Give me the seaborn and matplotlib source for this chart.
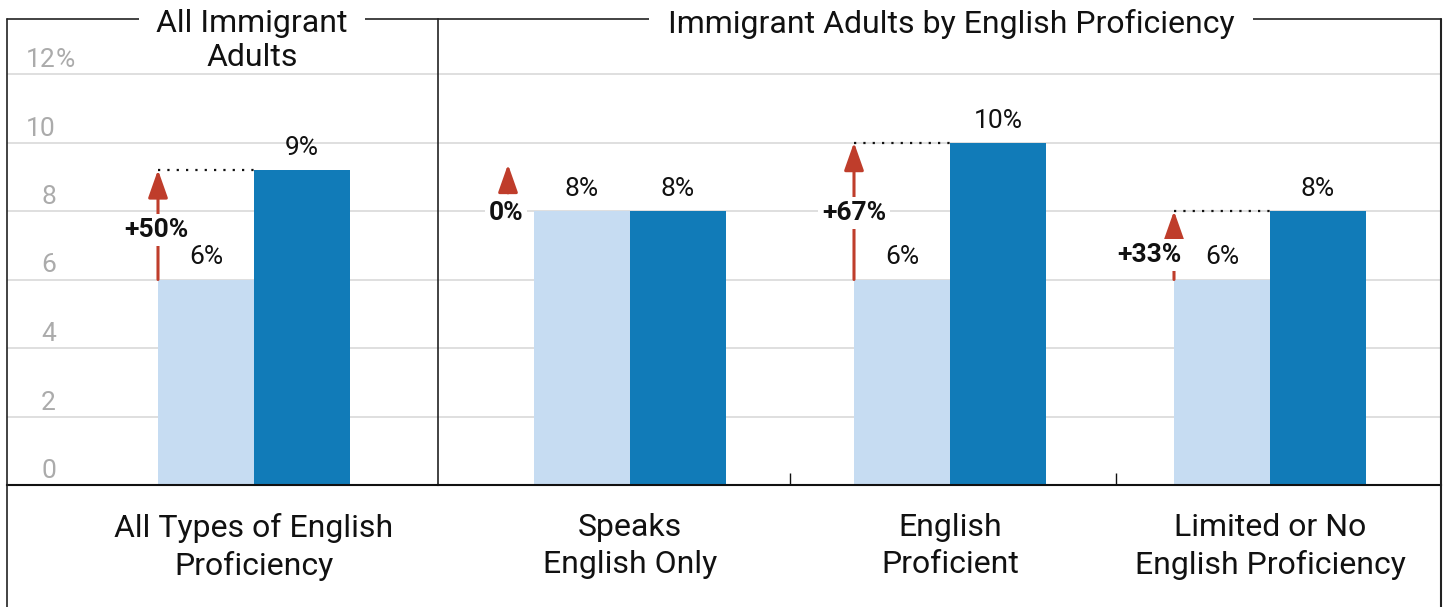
import matplotlib
matplotlib.use("Agg")
import matplotlib.pyplot as plt
import matplotlib.transforms as mtransforms
from matplotlib.lines import Line2D
import seaborn as sns
import pandas as pd
import numpy as np

# ---------------- data ----------------
categories = ["All Types of English\nProficiency", "Speaks\nEnglish Only",
              "English\nProficient", "Limited or No\nEnglish Proficiency"]
periods = ["Earlier", "Later"]
earlier = [6.0, 8.0, 6.0, 6.0]
later = [9.2, 8.0, 10.0, 8.0]
panel_titles = ["All Immigrant\nAdults", "Immigrant Adults by English Proficiency"]
y_ticks = [0, 2, 4, 6, 8, 10, 12]

# ---------------- style ----------------
LIGHT = "#c6dcf2"
DARK = "#117bb8"
RED = "#bf3d2b"
GRID = "#dcdcdc"
TICKGRAY = "#ababab"
FRAME = "#222222"
TXT = "#111111"

sns.set_theme(style="white")
plt.rcParams['font.family'] = ['Roboto', 'DejaVu Sans']

W, H = 1444, 607
fig = plt.figure(figsize=(W / 100, H / 100), dpi=100)


def fx(px):
    return px / W


def fy(py):
    return 1 - py / H


base_y, top_y, unit_px = 485, 19, 34.25
ymax = (base_y - top_y) / unit_px
cat_px = 320.0

axL = fig.add_axes([fx(6.5), fy(base_y), fx(438 - 6.5), (base_y - top_y) / H])
axR = fig.add_axes([fx(438), fy(base_y), fx(1441 - 438), (base_y - top_y) / H])

rows = []
for c, a, b in zip(categories, earlier, later):
    rows.append({"category": c, "period": periods[0], "value": a})
    rows.append({"category": c, "period": periods[1], "value": b})
df = pd.DataFrame(rows)

panels = [(axL, categories[:1]), (axR, categories[1:])]
for ax, cats in panels:
    sub = df[df["category"].isin(cats)]
    sns.barplot(data=sub, x="category", y="value", hue="period", order=cats,
                hue_order=periods, palette=[LIGHT, DARK], width=0.6,
                saturation=1, linewidth=0, errorbar=None, legend=False, ax=ax)
    ax.set_ylim(0, ymax)
    ax.set_yticks(y_ticks)
    ax.set_yticklabels([])
    ax.tick_params(axis="y", length=0)
    ax.grid(axis="y", color=GRID, lw=1.3)
    ax.grid(axis="x", visible=False)
    ax.set_axisbelow(True)
    ax.set_xlabel("")
    ax.set_ylabel("")
    ax.set_facecolor("none")
    for s in ["top", "right"]:
        ax.spines[s].set_visible(False)
    ax.spines["bottom"].set_color(TXT)
    ax.spines["bottom"].set_linewidth(1.5)
    ax.tick_params(axis="x", length=0, pad=20, labelsize=23, labelcolor=TXT)
    for lab in ax.get_xticklabels():
        lab.set_linespacing(1.35)

axL.spines["left"].set_visible(False)
axR.spines["left"].set_color(FRAME)
axR.spines["left"].set_linewidth(1.2)

axL.set_xlim(-(254 - 6.5) / cat_px, (438 - 254) / cat_px)
axR.set_xlim(-(630 - 438) / cat_px, 2 + (1441 - 1270) / cat_px)

# small separators between right-panel groups
axR.set_xticks([0.5, 1.52], minor=True)
axR.tick_params(axis="x", which="minor", direction="in", length=9, width=1.0,
                color=TXT, bottom=True)

# y tick labels drawn inside the left panel
ytrans = mtransforms.offset_copy(axL.get_yaxis_transform(), fig=fig, x=0, y=7, units="dots")
xlab = (56 - 6.5) / (438 - 6.5)
for v in y_ticks:
    axL.text(xlab, v, f"{v}", ha="right", va="baseline", fontsize=19,
             color=TICKGRAY, transform=ytrans)
axL.text(xlab, y_ticks[-1], "%", ha="left", va="baseline", fontsize=19,
         color=TICKGRAY, transform=ytrans)

# change-label layout (pixels): (dx, dy) relative to arrow / midpoint
change_offsets = [(-2, -2), (-28, -2), (0, -2), (-25, -10)]

gi = 0
for ax, cats in panels:
    c_old, c_new = ax.containers[0], ax.containers[1]
    for j in range(len(cats)):
        old = earlier[gi]
        new = later[gi]
        bo, bn = c_old[j], c_new[j]
        # value labels
        for b, v in ((bo, old), (bn, new)):
            t = mtransforms.offset_copy(ax.transData, fig=fig, x=0, y=15, units="dots")
            ax.text(b.get_x() + b.get_width() / 2, v, f"{v:.0f}%", ha="center",
                    va="baseline", fontsize=19, color=TXT, transform=t)
        r_old, r_new = round(old), round(new)
        change = round((r_new - r_old) / r_old * 100)
        dxp, dyp = change_offsets[gi]
        x_arrow = bo.get_x()
        aprops = dict(arrowstyle="-|>,head_length=0.85,head_width=0.3",
                      mutation_scale=20, color=RED, lw=2.2, shrinkA=0, shrinkB=0)
        if change == 0:
            xa = x_arrow + (dxp + 2) / cat_px
            ax.annotate("", xy=(xa, old + 1.36), xytext=(xa, old + 0.53), arrowprops=aprops)
            ty = old
        else:
            ax.annotate("", xy=(x_arrow, new), xytext=(x_arrow, old), arrowprops=aprops)
            ax.plot([x_arrow, bn.get_x()], [new, new], color=TXT, lw=1.6,
                    ls=(0, (1, 3.2)), solid_capstyle="butt", dash_capstyle="butt")
            ty = (r_old + r_new) / 2
        t = mtransforms.offset_copy(ax.transData, fig=fig, x=dxp, y=dyp, units="dots")
        label = f"+{change}%" if change > 0 else f"{change}%"
        ax.text(x_arrow, ty, label, ha="center", va="center", fontsize=19,
                fontweight="bold", color=TXT, transform=t, zorder=5,
                bbox=dict(boxstyle="square,pad=0.15", fc="white", ec="none"))
        gi += 1

# outer frame
fig.add_artist(Line2D([fx(6.5), fx(6.5)], [fy(top_y), 0], color=FRAME, lw=1.2))
fig.add_artist(Line2D([fx(1441), fx(1441)], [fy(top_y), 0], color=FRAME, lw=1.5))
fig.add_artist(Line2D([fx(6.5), fx(1441)], [fy(top_y), fy(top_y)], color=FRAME, lw=1.2))

# panel titles
lt = panel_titles[0].split("\n")
fig.text(fx(252), fy(24), lt[0], ha="center", va="center", fontsize=23, color=TXT,
         bbox=dict(boxstyle="square,pad=0.55", fc="white", ec="none"))
fig.text(fx(252), fy(57), lt[1], ha="center", va="center", fontsize=23, color=TXT)
fig.text(fx(951), fy(24), panel_titles[1], ha="center", va="center", fontsize=23,
         color=TXT, bbox=dict(boxstyle="square,pad=0.6", fc="white", ec="none"))

fig.savefig("out.png", dpi=100, facecolor="white")
